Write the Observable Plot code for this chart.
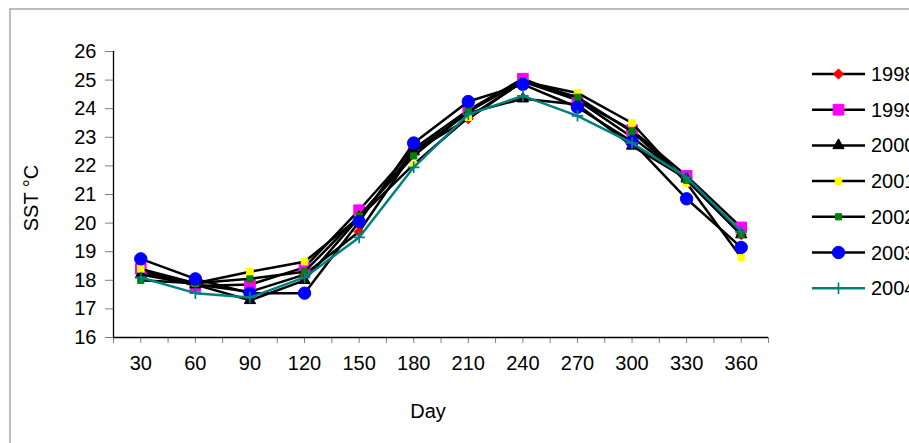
<!DOCTYPE html>
<html><head><meta charset="utf-8">
<script src="https://cdn.jsdelivr.net/npm/d3@7"></script>
<script src="https://cdn.jsdelivr.net/npm/@observablehq/plot@0.6"></script>
<style>
body{margin:0;background:#fff;}
#wrap{position:relative;width:909px;height:443px;overflow:hidden;font-family:"Liberation Sans",Arial,sans-serif;background:#fff;}
#wrap svg{position:absolute;left:0;top:0;}
</style></head><body><div id="wrap"></div>
<script>
const days = [30, 60, 90, 120, 150, 180, 210, 240, 270, 300, 330, 360];
const years = ["1998", "1999", "2000", "2001", "2002", "2003", "2004"];
const sst1998 = [18.3, 17.85, 17.6, 18.2, 19.7, 22.5, 23.65, 24.95, 24.3, 23.0, 21.55, 19.6];
const sst1999 = [18.4, 17.8, 17.85, 18.45, 20.45, 22.6, 23.95, 25.05, 24.3, 23.25, 21.65, 19.85];
const sst2000 = [18.2, 17.85, 17.3, 18.0, 20.2, 22.5, 23.85, 24.35, 24.15, 22.7, 21.55, 19.6];
const sst2001 = [18.4, 17.9, 18.3, 18.65, 20.2, 22.05, 23.7, 24.95, 24.55, 23.5, 21.4, 18.8];
const sst2002 = [18.0, 17.9, 18.05, 18.3, 20.25, 22.35, 23.9, 24.98, 24.4, 23.2, 21.5, 19.6];
const sst2003 = [18.75, 18.05, 17.55, 17.55, 20.05, 22.8, 24.25, 24.85, 24.05, 22.85, 20.85, 19.15];
const sst2004 = [18.1, 17.55, 17.4, 18.1, 19.5, 21.95, 23.8, 24.45, 23.75, 22.8, 21.6, 19.7];
const yTicks = [16, 17, 18, 19, 20, 21, 22, 23, 24, 25, 26];
const xTicks = [15, 30, 45, 60, 75, 90, 105, 120, 135, 150, 165, 180, 195, 210, 225, 240, 255, 270, 285, 300, 315, 330, 345, 360, 375];

const seriesValues = [sst1998, sst1999, sst2000, sst2001, sst2002, sst2003, sst2004];
const styles = [
  {line: "black", symbol: "diamond2", fill: "#ff0000", stroke: "#ff0000", r: 4.6, sw: 1},
  {line: "black", symbol: "square", fill: "#ff00ff", stroke: "#ff00ff", r: 6.0, sw: 1},
  {line: "black", symbol: "triangle", fill: "black", stroke: "black", r: 4.2, sw: 1},
  {line: "black", symbol: "square", fill: "#ffff00", stroke: "#ffff00", r: 3.7, sw: 1},
  {line: "black", symbol: "square", fill: "#008000", stroke: "#008000", r: 3.5, sw: 1},
  {line: "black", symbol: "circle", fill: "#0000ff", stroke: "#0000ff", r: 6.2, sw: 1},
  {line: "#008080", symbol: "plus", fill: "none", stroke: "#008080", r: 3.8, sw: 1.7}
];

const rows = years.flatMap((yr, i) => days.map((d, j) => ({year: yr, day: d, sst: seriesValues[i][j]})));

const marks = [];
years.forEach((yr, i) => {
  const s = styles[i];
  const data = rows.filter(r => r.year === yr);
  marks.push(Plot.line(data, {x: "day", y: "sst", stroke: s.line, strokeWidth: 2.5}));
  marks.push(Plot.dot(data, {x: "day", y: "sst", symbol: s.symbol, r: s.r, fill: s.fill, stroke: s.stroke, strokeWidth: s.sw}));
});

const chart = Plot.plot({
  width: 909, height: 443,
  marginLeft: 113, marginRight: 141, marginTop: 51, marginBottom: 106,
  style: {fontFamily: '"Liberation Sans", Arial, sans-serif', fontSize: "20px", background: "transparent", color: "black"},
  x: {domain: [15, 375]},
  y: {domain: [16, 26]},
  marks: [
    Plot.axisY({ticks: yTicks, tickSize: 8, tickPadding: 9, stroke: "#808080", fill: "black", label: null, fontSize: 20}),
    Plot.axisX({ticks: xTicks, tickFormat: d => d % 30 === 0 && d > 15 && d < 375 ? String(d) : "", tickSize: 6, tickPadding: 12, stroke: "#808080", fill: "black", label: null, fontSize: 20}),
    Plot.ruleX([15], {stroke: "black", strokeWidth: 1.3}),
    Plot.ruleY([16], {stroke: "black", strokeWidth: 1.3}),
    ...marks
  ]
});
const wrap = document.getElementById("wrap");
wrap.appendChild(chart);

// overlay: frame, axis titles, legend
const ov = d3.select(wrap).append("svg").attr("width", 909).attr("height", 443)
  .style("font-family", '"Liberation Sans", Arial, sans-serif');
ov.append("path").attr("d", "M10,460 L10,9 L930,9").attr("fill", "none").attr("stroke", "#a6a6a6").attr("stroke-width", 1.5);
ov.append("text").attr("transform", "translate(38,198) rotate(-90)").attr("text-anchor", "middle")
  .attr("font-size", 20).text("SST \u00B0C");
ov.append("text").attr("x", 428).attr("y", 418).attr("text-anchor", "middle").attr("font-size", 20).text("Day");

const symMap = {diamond2: d3.symbolDiamond2, square: d3.symbolSquare, triangle: d3.symbolTriangle, circle: d3.symbolCircle, plus: d3.symbolPlus};
years.forEach((yr, i) => {
  const s = styles[i];
  const y = 74 + i * 35.7;
  const g = ov.append("g");
  g.append("line").attr("x1", 812).attr("x2", 865).attr("y1", y).attr("y2", y).attr("stroke", s.line).attr("stroke-width", 2.5);
  g.append("path").attr("transform", `translate(838.5,${y})`)
    .attr("d", d3.symbol(symMap[s.symbol], Math.PI * s.r * s.r)())
    .attr("fill", s.fill).attr("stroke", s.stroke).attr("stroke-width", s.sw);
  g.append("text").attr("x", 871).attr("y", y).attr("dy", "0.35em").attr("font-size", 20).text(yr);
});
</script></body></html>
